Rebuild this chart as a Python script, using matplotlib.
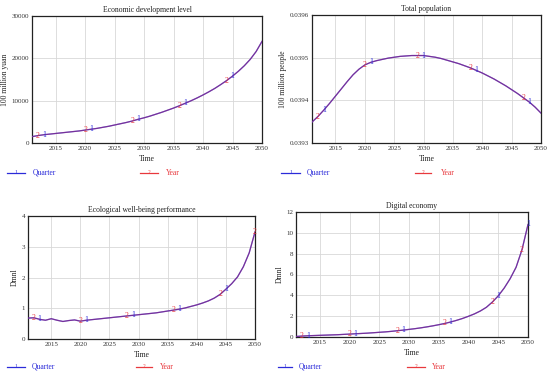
import matplotlib
matplotlib.use("Agg")
import matplotlib.pyplot as plt
from matplotlib.lines import Line2D
import numpy as np

plt.rcParams['font.family'] = ['Liberation Serif', 'DejaVu Serif']

years = list(range(2011, 2051))

economic = [1500, 1750, 1950, 2100, 2250, 2400, 2550, 2700, 2850, 3050,
            3250, 3450, 3700, 3950, 4250, 4550, 4850, 5200, 5600, 5950,
            6350, 6800, 7250, 7750, 8250, 8800, 9400, 10000, 10650, 11350,
            12100, 12900, 13800, 14750, 15800, 16950, 18250, 19750, 21600, 24000]

population = [0.039349, 0.039362, 0.039377, 0.039393, 0.039410, 0.039427, 0.039444,
              0.039460, 0.039473, 0.039483, 0.039489, 0.039493, 0.039496, 0.039499,
              0.039501, 0.039503, 0.039504, 0.039505, 0.039505, 0.039505, 0.039503,
              0.039501, 0.039498, 0.039494, 0.039490, 0.039486, 0.039481, 0.039476,
              0.039470, 0.039464, 0.039457, 0.039450, 0.039442, 0.039434, 0.039425,
              0.039416, 0.039406, 0.039396, 0.039384, 0.039370]

ecological = [0.68, 0.69, 0.64, 0.61, 0.66, 0.61, 0.57, 0.60, 0.62, 0.58,
              0.61, 0.63, 0.65, 0.67, 0.69, 0.71, 0.73, 0.75, 0.77, 0.79,
              0.81, 0.83, 0.85, 0.88, 0.91, 0.94, 0.97, 1.01, 1.06, 1.11,
              1.17, 1.24, 1.33, 1.45, 1.62, 1.80, 2.02, 2.35, 2.80, 3.48]

digital = [0.05, 0.09, 0.12, 0.14, 0.16, 0.18, 0.20, 0.22, 0.25, 0.28,
           0.31, 0.34, 0.37, 0.41, 0.45, 0.49, 0.54, 0.60, 0.66, 0.73,
           0.80, 0.88, 0.97, 1.07, 1.18, 1.30, 1.44, 1.60, 1.78, 1.99,
           2.22, 2.50, 2.85, 3.35, 3.95, 4.70, 5.60, 6.70, 8.40, 10.8]

titles = ["Economic development level", "Total population",
          "Ecological well-being performance", "Digital economy"]
ylabels = ["100 million yuan", "100 million people", "Dmnl", "Dmnl"]
series_names = ["Quarter", "Year"]
xticks = [2015, 2020, 2025, 2030, 2035, 2040, 2045, 2050]

q_marks = [[2013, 2021, 2029, 2037, 2045],
           [2013, 2021, 2030, 2039, 2048],
           [2013, 2021, 2029, 2037, 2045],
           [2013, 2021, 2029, 2037, 2045, 2050]]
y_marks = [[2012, 2020, 2028, 2036, 2044],
           [2012, 2020, 2029, 2038, 2047],
           [2012, 2020, 2028, 2036, 2044, 2050],
           [2012, 2020, 2028, 2036, 2044, 2049]]

data = [economic, population, ecological, digital]
ylims = [(0, 30000), (0.0393, 0.0396), (0, 4), (0, 12)]
yticks = [[0, 10000, 20000, 30000], [0.0393, 0.0394, 0.0395, 0.0396],
          [0, 1, 2, 3, 4], [0, 2, 4, 6, 8, 10, 12]]
yfmt = [lambda v: f"{v:.0f}", lambda v: f"{v:.4f}", lambda v: f"{v:.0f}", lambda v: f"{v:.0f}"]

W, H = 550, 376
fig = plt.figure(figsize=(5.5, 3.76), dpi=100)

boxes = [(32, 262, 16, 143), (312, 541, 15, 143), (28, 255, 216, 339), (296, 528, 212, 337)]
legend_pos = [(7, 25, 33, 140, 158, 166, 173),
              (281, 300, 307, 415, 431, 441, 173),
              (7, 25, 32, 136, 152, 160, 367),
              (278, 292, 299, 407, 425, 432, 367)]
BLUE = "#2b2bd9"
RED = "#e8383d"

for i in range(4):
    l, r, t, b = boxes[i]
    ax = fig.add_axes([l / W, 1 - b / H, (r - l) / W, (b - t) / H])
    vals = data[i]
    ax.plot(years, vals, color=BLUE, lw=0.9, zorder=3)
    ax.plot(years, vals, color=RED, lw=0.9, alpha=0.4, zorder=4)
    for yr in q_marks[i]:
        v = vals[years.index(yr)]
        ax.text(yr, v, "1", color=BLUE, fontsize=5.5, ha="center", va="center", zorder=5)
    for yr in y_marks[i]:
        v = vals[years.index(yr)]
        ax.text(yr, v, "2", color=RED, fontsize=5.5, ha="center", va="center", zorder=5)
    ax.set_xlim(2011, 2050)
    ax.set_ylim(*ylims[i])
    ax.set_xticks(xticks)
    ax.set_xticklabels([str(x) for x in xticks], fontsize=5, color="#333333")
    ax.set_yticks(yticks[i])
    ax.set_yticklabels([yfmt[i](v) for v in yticks[i]], fontsize=5, color="#333333")
    ax.tick_params(length=0, pad=2)
    ax.grid(True, color="#d8d8d8", lw=0.6)
    ax.set_axisbelow(True)
    for s in ax.spines.values():
        s.set_color("#222222")
        s.set_linewidth(0.9)
    ax.set_title(titles[i], fontsize=5.5, pad=3, color="#222222")
    ax.set_xlabel("Time", fontsize=5.5, labelpad=3, color="#222222")
    ax.set_ylabel(ylabels[i], fontsize=5.5, labelpad=2, color="#222222")

    x0, x1, xt, x2, x3, xt2, yy = legend_pos[i]
    fy = 1 - yy / H
    fig.add_artist(Line2D([x0 / W, x1 / W], [fy, fy], color=BLUE, lw=0.9))
    fig.text((x0 + x1) / 2 / W, fy, "1", color=BLUE, fontsize=4, ha="center", va="center")
    fig.text(xt / W, fy, series_names[0], color=BLUE, fontsize=5.5, ha="left", va="center")
    fig.add_artist(Line2D([x2 / W, x3 / W], [fy, fy], color=RED, lw=0.9))
    fig.text((x2 + x3) / 2 / W, fy, "2", color=RED, fontsize=4, ha="center", va="center")
    fig.text(xt2 / W, fy, series_names[1], color=RED, fontsize=5.5, ha="left", va="center")

fig.savefig("out.png", dpi=100, facecolor="white")
